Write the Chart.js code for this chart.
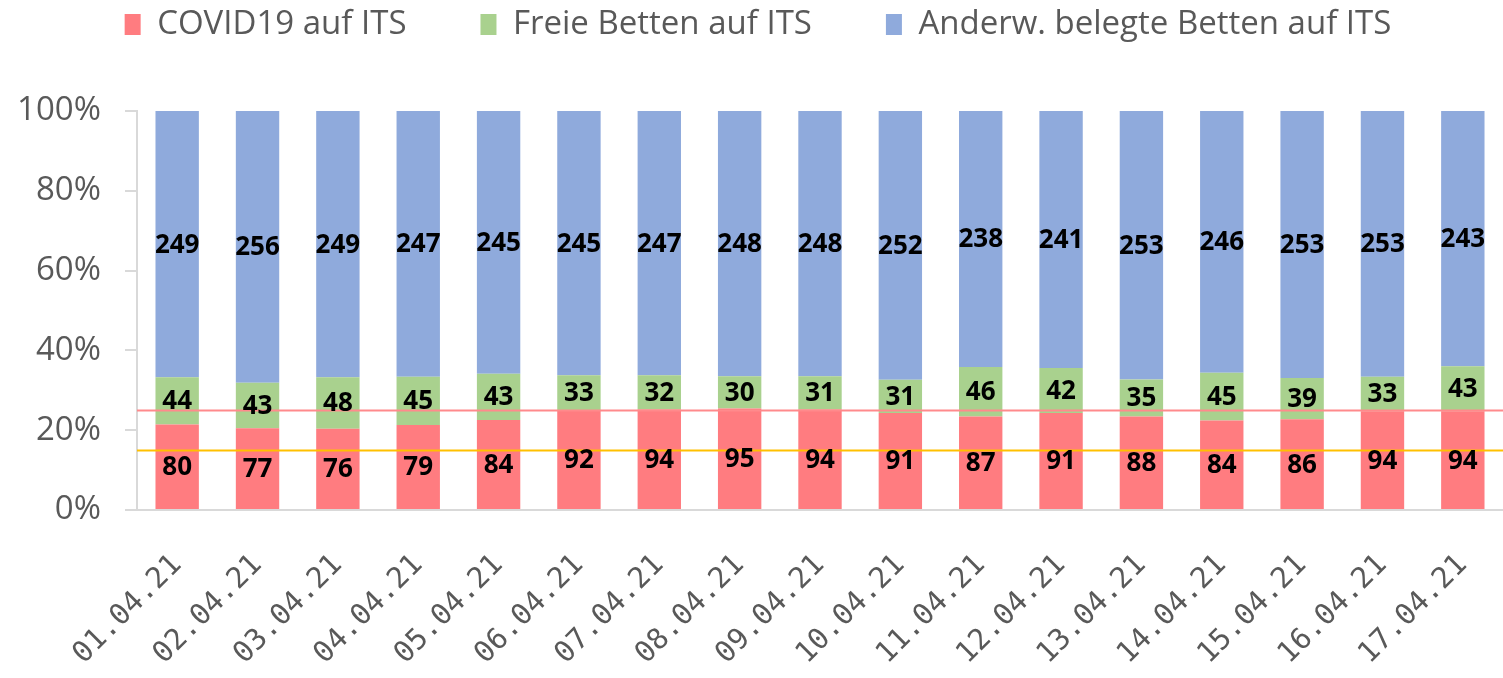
<!DOCTYPE html>
<html>
<head>
<meta charset="utf-8">
<script src="https://cdn.jsdelivr.net/npm/chart.js@4"></script>
<style>
  html, body { margin: 0; padding: 0; background: #fff; }
  #wrap { width: 1503px; height: 678px; }
</style>
</head>
<body>
<div id="wrap"><canvas id="itsChart" width="1503" height="678"></canvas></div>
<script>
const dates = ["01.04.21","02.04.21","03.04.21","04.04.21","05.04.21","06.04.21","07.04.21","08.04.21","09.04.21","10.04.21","11.04.21","12.04.21","13.04.21","14.04.21","15.04.21","16.04.21","17.04.21"];
const covid = [80,77,76,79,84,92,94,95,94,91,87,91,88,84,86,94,94];
const frei = [44,43,48,45,43,33,32,30,31,31,46,42,35,45,39,33,43];
const anderw = [249,256,249,247,245,245,247,248,248,252,238,241,253,246,253,253,243];
const refLevels = [25, 15];
const refColors = ["#FF8A8C", "#FFC000"];

const totals = dates.map((d, i) => covid[i] + frei[i] + anderw[i]);
const pct = (arr) => arr.map((v, i) => v / totals[i] * 100);

const gray = "#595959";
const axisGray = "#d9d9d9";

// raw numbers in the middle of each segment
const segLabels = {
  id: "segLabels",
  afterDatasetsDraw(chart) {
    const ctx = chart.ctx;
    ctx.save();
    ctx.font = "bold 26px 'Open Sans', sans-serif";
    ctx.fillStyle = "#000";
    ctx.textAlign = "center";
    ctx.textBaseline = "middle";
    chart.data.datasets.forEach((ds, di) => {
      chart.getDatasetMeta(di).data.forEach((bar, i) => {
        ctx.fillText(ds.raw[i], bar.x, (bar.y + bar.base) / 2 + 1);
      });
    });
    ctx.restore();
  }
};

// horizontal reference lines
const refLines = {
  id: "refLines",
  afterDatasetsDraw(chart) {
    const ctx = chart.ctx;
    const y = chart.scales.y;
    ctx.save();
    refLevels.forEach((lvl, k) => {
      const py = Math.round(y.getPixelForValue(lvl)) + 0.5;
      ctx.strokeStyle = refColors[k];
      ctx.lineWidth = 2;
      ctx.beginPath();
      ctx.moveTo(chart.chartArea.left, py);
      ctx.lineTo(chart.width, py);
      ctx.stroke();
    });
    ctx.restore();
  }
};

// legend block height so the plot starts at y=111
const legendGap = {
  id: "legendGap",
  beforeInit(chart) {
    const fit = chart.legend.fit;
    chart.legend.fit = function () {
      fit.bind(chart.legend)();
      this.height = 111 + 66;
    };
  }
};

new Chart(document.getElementById("itsChart"), {
  type: "bar",
  data: {
    labels: dates,
    datasets: [
      { label: "COVID19 auf ITS", data: pct(covid), raw: covid, backgroundColor: "#FF7C80" },
      { label: "Freie Betten auf ITS", data: pct(frei), raw: frei, backgroundColor: "#A9D18E" },
      { label: "Anderw. belegte Betten auf ITS", data: pct(anderw), raw: anderw, backgroundColor: "#8FAADC" }
    ]
  },
  options: {
    responsive: false,
    animation: false,
    layout: { padding: { left: 0, right: -13, top: -66, bottom: 0 } },
    datasets: { bar: { barPercentage: 0.54, categoryPercentage: 1 } },
    scales: {
      x: {
        stacked: true,
        afterFit: (s) => { s.height = 168; s.paddingLeft = 0; s.paddingRight = 0; },
        grid: { display: false },
        border: { color: axisGray, width: 2 },
        ticks: {
          color: gray,
          font: { family: "'DejaVu Sans Mono', monospace", size: 29 },
          minRotation: 45,
          maxRotation: 45,
          padding: 30
        }
      },
      y: {
        stacked: true,
        min: 0,
        max: 100,
        afterFit: (s) => { s.width = 137; s.paddingTop = 0; s.paddingBottom = 0; },
        grid: { drawOnChartArea: false, drawTicks: true, tickLength: 12, color: axisGray, lineWidth: 2 },
        border: { color: axisGray, width: 2 },
        ticks: {
          stepSize: 20,
          color: gray,
          font: { family: "'Open Sans', sans-serif", size: 33 },
          padding: 24,
          callback: (v) => v + "%"
        }
      }
    },
    plugins: {
      legend: {
        position: "top",
        labels: {
          color: gray,
          font: { family: "'Open Sans', sans-serif", size: 33 },
          boxWidth: 16,
          boxHeight: 21,
          padding: 74
        }
      },
      tooltip: { enabled: false }
    }
  },
  plugins: [legendGap, refLines, segLabels]
});
</script>
</body>
</html>
